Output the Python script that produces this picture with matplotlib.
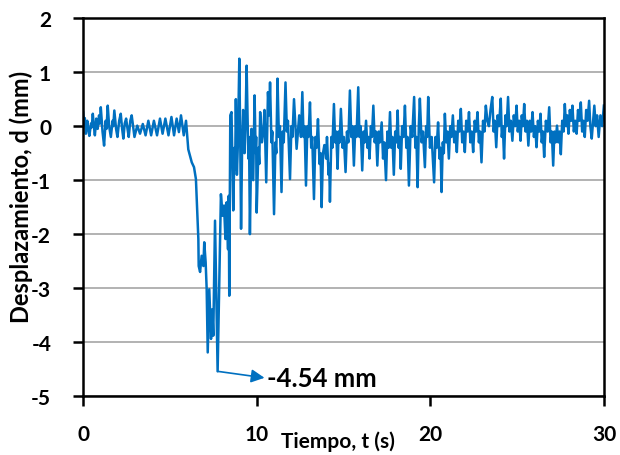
import numpy as np
import matplotlib.pyplot as plt

# === Data ===
# before the event (0 - 6 s)
t_pre = [0.00, 0.06, 0.10, 0.16, 0.24, 0.30, 0.36, 0.46, 0.50, 0.56, 0.62, 0.68,
         0.76, 0.84, 0.92, 0.97, 1.02, 1.12, 1.21, 1.30, 1.35, 1.42, 1.50, 1.60,
         1.70, 1.74, 1.80, 1.90, 1.98, 2.08, 2.17, 2.25, 2.32, 2.40, 2.48, 2.56,
         2.63, 2.72, 2.80, 2.96, 3.12, 3.28, 3.44, 3.60, 3.76, 3.92, 4.08, 4.26,
         4.43, 4.58, 4.74, 4.92, 5.09, 5.24, 5.39, 5.52, 5.64, 5.80, 5.93]
d_pre = [0.26, 0.05, 0.15, -0.14, 0.10, -0.05, -0.18, 0.05, -0.02, 0.23, 0.00, -0.17,
         0.14, -0.05, 0.20, 0.05, 0.35, -0.10, -0.36, 0.10, -0.05, 0.38, 0.00, -0.20,
         0.10, 0.00, 0.29, -0.05, -0.20, 0.10, 0.23, -0.05, -0.23, 0.05, 0.14, -0.05,
         -0.20, 0.10, 0.20, -0.20, 0.01, -0.14, 0.04, -0.17, 0.10, -0.17, 0.10, -0.17,
         0.14, -0.14, 0.14, -0.17, 0.17, -0.17, 0.14, -0.11, 0.20, -0.17, 0.10]

# the large drop (6 - 8.5 s)
t_drop = [6.06, 6.26, 6.39, 6.50, 6.64, 6.66, 6.74, 6.83, 6.93, 6.98, 7.06, 7.12,
          7.18, 7.27, 7.37, 7.44, 7.50, 7.60, 7.75, 7.94, 8.04, 8.12, 8.20, 8.27,
          8.35, 8.39, 8.42]
d_drop = [-0.43, -0.67, -0.76, -0.98, -2.09, -2.59, -2.70, -2.40, -2.59, -2.15, -2.52, -3.02,
          -4.19, -3.02, -3.94, -3.39, -3.88, -1.75, -4.54, -1.26, -1.66, -1.47, -2.09, -1.41,
          -2.28, -1.29, -3.14]

# free vibration afterwards (8.5 - 30 s)
t_post = [8.48, 8.55, 8.65, 8.72, 8.76, 8.80, 8.86, 8.92, 9.00, 9.06, 9.10, 9.16,
          9.22, 9.30, 9.36, 9.42, 9.52, 9.56, 9.61, 9.70, 9.80, 9.88, 9.94, 9.97,
          10.00, 10.10, 10.15, 10.20, 10.30, 10.38, 10.45, 10.55, 10.65, 10.72, 10.77, 10.85,
          10.90, 11.00, 11.08, 11.13, 11.20, 11.28, 11.34, 11.43, 11.50, 11.56, 11.66, 11.74,
          11.80, 11.92, 12.00, 12.06, 12.15, 12.30, 12.45, 12.55, 12.63, 12.70, 12.76, 12.84,
          12.92, 12.98, 13.07, 13.14, 13.20, 13.30, 13.38, 13.45, 13.53, 13.62, 13.68, 13.74,
          13.82, 13.90, 14.00, 14.05, 14.14, 14.18, 14.22, 14.30, 14.36, 14.45, 14.52, 14.58,
          14.66, 14.72, 14.78, 14.85, 14.95, 15.02, 15.12, 15.20, 15.28, 15.37, 15.45, 15.52,
          15.60, 15.68, 15.75, 15.85, 15.92, 15.99, 16.08, 16.16, 16.22, 16.30, 16.38, 16.44,
          16.50, 16.58, 16.64, 16.72, 16.80, 16.87, 16.95, 17.03, 17.10, 17.20, 17.28, 17.35,
          17.45, 17.53, 17.60, 17.68, 17.75, 17.82, 17.90, 17.98, 18.05, 18.12, 18.18, 18.24,
          18.30, 18.38, 18.46, 18.54, 18.62, 18.69, 18.77, 18.87, 18.96, 19.07, 19.14, 19.20,
          19.27, 19.34, 19.40, 19.50, 19.58, 19.69, 19.76, 19.82, 19.88, 19.98, 20.08, 20.22,
          20.30, 20.37, 20.45, 20.53, 20.59, 20.65, 20.72, 20.78, 20.84, 20.92, 20.99, 21.07,
          21.15, 21.22, 21.30, 21.38, 21.45, 21.53, 21.61, 21.68, 21.76, 21.84, 21.91, 21.99,
          22.07, 22.15, 22.23, 22.31, 22.39, 22.47, 22.56, 22.64, 22.72, 22.80, 22.87, 22.95,
          23.04, 23.12, 23.20, 23.29, 23.38, 23.47, 23.57, 23.65, 23.72, 23.80, 23.88, 23.96,
          24.06, 24.12, 24.18, 24.25, 24.33, 24.40, 24.48, 24.56, 24.64, 24.73, 24.81, 24.89,
          24.97, 25.04, 25.12, 25.20, 25.27, 25.34, 25.41, 25.49, 25.57, 25.65, 25.73, 25.81,
          25.89, 25.97, 26.04, 26.12, 26.20, 26.28, 26.35, 26.42, 26.49, 26.56, 26.66, 26.76,
          26.85, 26.93, 27.00, 27.08, 27.15, 27.22, 27.30, 27.38, 27.45, 27.52, 27.60, 27.68,
          27.75, 27.82, 27.89, 27.96, 28.04, 28.12, 28.19, 28.27, 28.35, 28.43, 28.51, 28.59,
          28.67, 28.75, 28.82, 28.90, 28.98, 29.06, 29.15, 29.22, 29.30, 29.38, 29.45, 29.53,
          29.61, 29.70, 29.80, 29.90, 30.00]
d_post = [0.20, 0.26, -1.56, -0.40, -0.80, 0.50, -0.90, -0.30, 1.25, -0.50, -1.90, -0.40,
          0.30, -0.50, 0.10, 1.12, -0.60, -0.20, -2.00, -0.05, -1.00, 0.57, -0.50, -0.20,
          -1.60, -0.40, -0.70, 0.26, -0.30, -0.10, 0.30, -1.04, 0.63, 0.20, 0.81, -0.30,
          -0.10, -1.63, -0.30, -0.50, 0.88, -0.20, 0.00, -1.22, -0.10, -0.30, 0.81, -0.10,
          0.10, -0.98, 0.00, -0.20, 0.50, -0.42, 0.20, -0.20, 0.63, -0.20, 0.00, -1.10,
          0.00, -0.20, 0.44, -0.40, -0.20, -1.35, -0.20, -0.40, 0.13, -0.70, -0.50, -1.50,
          -0.50, -0.35, -0.60, -0.20, -0.90, -0.70, -1.40, -0.20, -0.40, 0.41, -0.30, -0.10,
          -0.79, -0.10, -0.30, 0.32, -0.40, -0.20, -0.85, -0.10, -0.30, 0.66, -0.20, 0.00,
          -0.73, 0.00, -0.20, 0.72, -0.20, 0.00, -0.82, -0.10, -0.30, 0.10, -0.40, -0.20,
          -0.60, 0.00, -0.20, 0.38, -0.30, -0.10, -0.73, -0.10, -0.30, 0.07, -0.60, -0.30,
          -1.00, -0.10, -0.40, 0.26, -0.40, -0.20, -0.90, -0.10, -0.30, 0.29, -0.40, -0.20,
          -0.79, 0.00, -0.20, 0.38, -0.40, -0.20, -1.10, 0.00, -0.20, 0.54, -0.40, -0.20,
          -1.13, 0.00, 0.51, -0.30, -0.10, -0.76, 0.00, -0.20, 0.54, -0.40, -0.20, -1.04,
          -0.20, -0.40, 0.07, -0.60, -0.40, -1.22, -0.30, -0.50, 0.23, -0.30, -0.10, -0.60,
          0.00, -0.20, 0.20, -0.30, -0.10, -0.48, 0.10, -0.10, 0.32, -0.30, -0.10, -0.48,
          0.10, -0.10, 0.26, -0.30, -0.10, -0.48, 0.10, -0.10, 0.26, -0.30, -0.10, -0.67,
          0.10, -0.10, 0.38, 0.10, 0.00, 0.30, 0.54, -0.10, 0.10, -0.39, 0.20, 0.00,
          0.51, -0.20, 0.00, -0.60, 0.20, 0.00, 0.54, -0.10, 0.10, -0.27, 0.20, 0.00,
          0.38, -0.10, 0.10, -0.27, 0.20, 0.00, 0.41, -0.10, 0.10, -0.36, 0.10, -0.10,
          0.26, -0.20, 0.00, -0.39, 0.10, -0.10, 0.23, -0.30, -0.10, -0.57, 0.10, -0.10,
          0.35, -0.30, -0.10, -0.73, -0.10, -0.30, 0.01, -0.30, -0.10, -0.52, 0.10, -0.10,
          0.41, 0.00, 0.20, -0.14, 0.30, 0.10, 0.38, -0.10, 0.10, -0.14, 0.30, 0.10,
          0.44, -0.10, 0.10, -0.20, 0.30, 0.10, 0.47, 0.00, -0.23, 0.10, 0.38, 0.00,
          0.20, -0.20, 0.20, 0.00, 0.38]

t = np.array(t_pre + t_drop + t_post)
d = np.array(d_pre + d_drop + d_post)

x_ticks = [0, 10, 20, 30]
y_ticks = [-5, -4, -3, -2, -1, 0, 1, 2]

# === Plot ===
plt.rcParams['font.family'] = ['Lato', 'DejaVu Sans']
plt.rcParams['font.weight'] = 'bold'
plt.rcParams['axes.unicode_minus'] = False

fig = plt.figure(figsize=(6.2, 4.56), dpi=100)
ax = fig.add_axes([0.134, 0.129, 0.840, 0.829])

ax.plot(t, d, color='#0070C0', lw=1.8)

ax.set_xlim(0, 30)
ax.set_ylim(-5, 2)
ax.set_xticks(x_ticks)
ax.set_yticks(y_ticks)
ax.grid(axis='y', color='#A6A6A6', lw=1.2)
ax.set_axisbelow(True)

for s in ax.spines.values():
    s.set_linewidth(1.8)
    s.set_color('black')
ax.tick_params(axis='both', direction='out', length=7, width=1.8, labelsize=15)
ax.tick_params(axis='x', pad=13)
ax.tick_params(axis='y', pad=16)
for lab in ax.get_xticklabels() + ax.get_yticklabels():
    lab.set_fontweight('bold')

ax.text(0.49, -0.118, 'Tiempo, t (s)', transform=ax.transAxes, ha='center',
        va='center', fontsize=15, fontweight='bold')
fig.text(0.034, 0.568, 'Desplazamiento, d (mm)', rotation=90, ha='center',
         va='center', fontsize=17, fontweight='bold')

# minimum annotation
i_min = np.argmin(d)
ax.annotate('', xy=(10.45, -4.66), xytext=(t[i_min], d[i_min]),
            arrowprops=dict(arrowstyle='-|>', color='#0070C0', lw=1.2,
                            mutation_scale=20, shrinkA=0, shrinkB=0))
ax.text(10.6, -4.66, '%.2f mm' % d[i_min], ha='left', va='center',
        fontsize=18.5, fontweight='bold')

fig.savefig('out.png', dpi=100)
